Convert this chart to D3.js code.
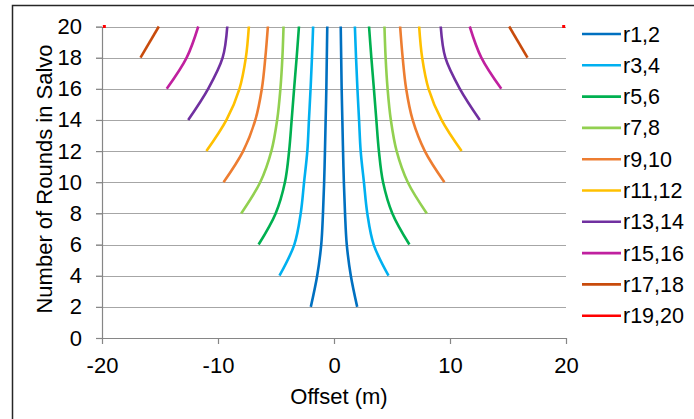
<!DOCTYPE html>
<html>
<head>
<meta charset="utf-8">
<script src="https://cdn.jsdelivr.net/npm/d3@7"></script>
<style>
	body { margin: 0; background: #fff; }
	svg { display: block; font-family: 'Liberation Sans', Arial, sans-serif; }
	.axis path, .axis line { stroke: #868686; }
	.axis text { font-size: 22px; fill: #000; }
</style>
</head>
<body>
<div id="vis"></div>
<script>
// series names and colours
var names = ['r1,2', 'r3,4', 'r5,6', 'r7,8', 'r9,10', 'r11,12', 'r13,14', 'r15,16', 'r17,18', 'r19,20'];
var colors = ['#0070c0', '#00b0f0', '#00b050', '#92d050', '#ed7d31', '#ffc000', '#7030a0', '#c0209f', '#c84b0c', '#ff0000'];

// rounds in salvo (y) for each series, and the half-width offset (m)
var rounds12 = [2, 4, 6, 8, 10, 12, 14, 16, 18, 20];
var offset12 = [2.0, 1.45, 1.1, 0.95, 0.85, 0.78, 0.72, 0.66, 0.62, 0.58];
var rounds34 = [4, 6, 8, 10, 12, 14, 16, 18, 20];
var offset34 = [4.7, 3.42, 2.87, 2.58, 2.3, 2.16, 2.02, 1.9, 1.8];
var rounds56 = [6, 8, 10, 12, 14, 16, 18, 20];
var offset56 = [6.5, 5.03, 4.23, 3.87, 3.65, 3.44, 3.22, 3.02];
var rounds78 = [8, 10, 12, 14, 16, 18, 20];
var offset78 = [8.0, 6.36, 5.4, 4.9, 4.62, 4.45, 4.35];
var rounds910 = [10, 12, 14, 16, 18, 20];
var offset910 = [9.52, 7.83, 6.78, 6.22, 5.92, 5.7];
var rounds1112 = [12, 14, 16, 18, 20];
var offset1112 = [11.0, 9.27, 8.15, 7.6, 7.34];
var rounds1314 = [14, 16, 18, 20];
var offset1314 = [12.57, 10.85, 9.6, 9.2];
var rounds1516 = [16, 18, 20];
var offset1516 = [14.42, 12.7, 11.7];
var rounds1718 = [18, 20];
var offset1718 = [16.68, 15.1];
var rounds1920 = [20];
var offset1920 = [19.8];

var xTicks = [-20, -10, 0, 10, 20];
var yTicks = [0, 2, 4, 6, 8, 10, 12, 14, 16, 18, 20];

var allRounds = [rounds12, rounds34, rounds56, rounds78, rounds910, rounds1112, rounds1314, rounds1516, rounds1718, rounds1920];
var allOffsets = [offset12, offset34, offset56, offset78, offset910, offset1112, offset1314, offset1516, offset1718, offset1920];

var width = 694,
	height = 419;

var margin = { left: 102, right: 128, top: 26.5, bottom: 81 };

var svg = d3.select('#vis')
	.append('svg')
	.attr('width', width)
	.attr('height', height);

// outer frame (runs off the picture at the right and bottom)
svg.append('rect')
	.attr('x', 12.5)
	.attr('y', 5.5)
	.attr('width', 720)
	.attr('height', 440)
	.attr('fill', 'none')
	.attr('stroke', '#262626')
	.attr('stroke-width', 1.5);

var xScale = d3.scaleLinear()
	.domain([-20, 20])
	.range([margin.left, width - margin.right]);

var yScale = d3.scaleLinear()
	.domain([0, 20])
	.range([height - margin.bottom, margin.top]);

// gridlines
svg.append('g')
	.selectAll('line')
	.data(yTicks.slice(1))
	.enter().append('line')
	.attr('x1', margin.left - 6)
	.attr('x2', xScale(20))
	.attr('y1', function(d) { return Math.round(yScale(d)) + 0.5; })
	.attr('y2', function(d) { return Math.round(yScale(d)) + 0.5; })
	.attr('stroke', '#a6a6a6')
	.attr('stroke-width', 1.2);

var yAxis = d3.axisLeft(yScale)
	.tickValues(yTicks)
	.tickSize(6)
	.tickPadding(14)
	.tickSizeOuter(0);

svg.append('g')
	.attr('class', 'axis')
	.attr('transform', 'translate(' + margin.left + ',0)')
	.call(yAxis)
	.attr('font-family', null)
	.attr('font-size', null);

var xAxis = d3.axisBottom(xScale)
	.tickValues(xTicks)
	.tickFormat(function(d) { return String(d); })
	.tickSize(6)
	.tickPadding(13)
	.tickSizeOuter(0);

svg.append('g')
	.attr('class', 'axis')
	.attr('transform', 'translate(0,' + yScale(0) + ')')
	.call(xAxis)
	.attr('font-family', null)
	.attr('font-size', null);

svg.selectAll('.axis path, .axis line').attr('stroke-width', 1.2);

// axis titles
svg.append('text')
	.attr('x', 339)
	.attr('y', 404)
	.attr('text-anchor', 'middle')
	.attr('font-size', 22)
	.text('Offset (m)');

svg.append('text')
	.attr('transform', 'translate(52,179) rotate(-90)')
	.attr('text-anchor', 'middle')
	.attr('font-size', 22)
	.text('Number of Rounds in Salvo');

// curves: each series is a left and a right branch
var line = d3.line()
	.x(function(d) { return xScale(d.x); })
	.y(function(d) { return yScale(d.y); })
	.curve(d3.curveCatmullRom.alpha(0.5));

var plot = svg.append('g');

names.forEach(function(name, i) {
	var pts = allRounds[i].map(function(r, j) { return { y: r, x: allOffsets[i][j] }; });
	[-1, 1].forEach(function(side) {
		var branch = pts.map(function(p) { return { x: side * p.x, y: p.y }; });
		if (branch.length > 1) {
			plot.append('path')
				.attr('d', line(branch))
				.attr('fill', 'none')
				.attr('stroke', colors[i])
				.attr('stroke-width', 2.6);
		} else {
			plot.append('rect')
				.attr('x', xScale(branch[0].x) - 1.5)
				.attr('y', yScale(branch[0].y) - 1.5)
				.attr('width', 3)
				.attr('height', 3)
				.attr('fill', colors[i]);
		}
	});
});

// legend
var legend = svg.append('g')
	.selectAll('g')
	.data(names)
	.enter().append('g')
	.attr('transform', function(d, i) { return 'translate(582,' + (34 + i * 31.3) + ')'; });

legend.append('line')
	.attr('x1', 0)
	.attr('x2', 39)
	.attr('stroke', function(d, i) { return colors[i]; })
	.attr('stroke-width', 2.6);

legend.append('text')
	.attr('x', 41)
	.attr('dy', '0.35em')
	.attr('font-size', 21.5)
	.text(function(d) { return d; });
</script>
</body>
</html>
